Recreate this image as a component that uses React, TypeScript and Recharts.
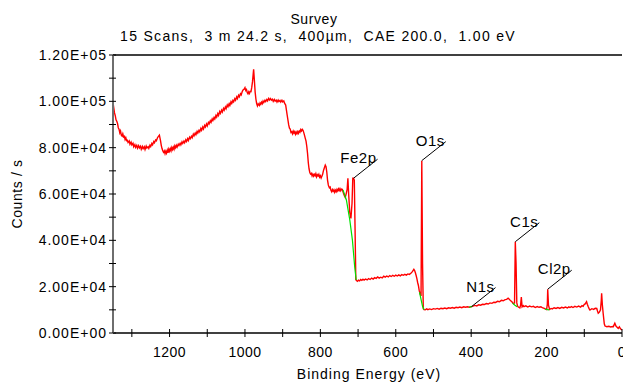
import React from 'react';
import { ComposedChart, Line, XAxis, YAxis, ReferenceLine, ReferenceDot } from 'recharts';

// survey spectrum, [binding energy (eV), counts/s]
const spectrum: [number, number][] = [
  [1350, 99500], [1348, 97200], [1346, 95000], [1344, 93800], [1342, 92000], [1340, 91400],
  [1338, 90500], [1336, 88600], [1334, 88000], [1332, 86400], [1330, 87200], [1328, 85400],
  [1326, 85000], [1324, 86000], [1322, 84600], [1320, 84900], [1318, 83500], [1316, 84300],
  [1314, 83000], [1312, 83200], [1310, 82200], [1307, 82900], [1305, 81500], [1302, 82400],
  [1300, 81200], [1297, 81900], [1295, 80400], [1292, 81300], [1290, 80100], [1287, 81000],
  [1285, 79800], [1282, 80900], [1280, 79900], [1277, 80600], [1275, 79300], [1272, 80500],
  [1270, 79600], [1267, 80400], [1265, 79200], [1262, 80700], [1260, 79900], [1257, 80400],
  [1255, 79700], [1252, 81100], [1250, 80500], [1247, 81800], [1245, 81200], [1242, 82600],
  [1240, 82100], [1237, 83300], [1235, 83000], [1232, 84300], [1230, 84800], [1227, 85400],
  [1224, 83000], [1222, 81000], [1220, 79600], [1218, 78700], [1216, 78000], [1214, 78600],
  [1212, 77400], [1210, 78500], [1208, 77600], [1206, 78900], [1204, 77800], [1202, 79400],
  [1200, 78500], [1198, 79600], [1196, 78600], [1194, 80100], [1192, 79200], [1190, 80200],
  [1188, 79300], [1186, 80800], [1184, 80000], [1182, 81000], [1180, 80200], [1177, 81500],
  [1175, 80900], [1172, 81900], [1170, 81200], [1167, 82500], [1165, 81800], [1162, 82800],
  [1160, 82100], [1157, 83400], [1155, 82700], [1152, 83900], [1150, 83100], [1147, 84500],
  [1145, 83900], [1142, 84900], [1140, 84300], [1137, 85800], [1135, 85100], [1132, 86300],
  [1130, 85600], [1127, 87000], [1125, 86300], [1122, 87500], [1120, 86900], [1117, 88300],
  [1115, 87500], [1112, 88900], [1110, 88100], [1107, 89600], [1105, 88900], [1102, 90200],
  [1100, 89400], [1097, 90900], [1095, 90300], [1092, 91600], [1090, 90900], [1087, 92400],
  [1085, 91700], [1082, 93000], [1080, 92400], [1077, 93900], [1075, 93200], [1072, 94700],
  [1070, 93900], [1067, 95600], [1065, 94800], [1062, 96200], [1060, 95400], [1057, 96900],
  [1055, 96200], [1052, 97600], [1050, 96800], [1047, 98400], [1045, 97700], [1042, 99000],
  [1040, 98200], [1037, 99800], [1035, 99100], [1032, 100400], [1030, 99800], [1027, 101100],
  [1025, 100500], [1022, 101900], [1020, 101200], [1017, 102600], [1015, 102000], [1012, 103300],
  [1010, 102800], [1007, 104300], [1005, 104900], [1002, 105300], [1000, 105900], [998, 104700],
  [996, 105100], [994, 103800], [992, 103200], [990, 104100], [988, 103400], [986, 104300],
  [984, 104200], [982, 106000], [980, 108500], [977, 113800], [975, 109000], [973, 104000],
  [971, 101000], [969, 99000], [967, 98000], [965, 98900], [962, 98200], [960, 99300],
  [958, 98700], [956, 99600], [954, 99000], [952, 100100], [950, 99500], [947, 100500],
  [945, 99900], [942, 100800], [940, 100200], [937, 101300], [935, 100600], [932, 101200],
  [930, 100500], [927, 100900], [925, 100000], [922, 100800], [920, 100100], [917, 100500],
  [915, 99700], [912, 100600], [910, 99900], [907, 100400], [905, 99700], [902, 100500],
  [900, 99800], [897, 100200], [895, 99200], [892, 98400], [888, 94000], [884, 89800],
  [882, 88400], [880, 88000], [878, 86600], [876, 86900], [874, 86000], [872, 87100],
  [870, 86300], [868, 86900], [866, 85800], [864, 86700], [862, 86000], [860, 86900],
  [858, 86200], [856, 87200], [854, 86700], [852, 87800], [850, 87200], [848, 87900],
  [846, 87500], [844, 86500], [842, 85300], [840, 84000], [838, 82800], [836, 80500],
  [834, 77500], [832, 73500], [830, 70800], [828, 69300], [826, 68600], [824, 68900],
  [822, 67800], [820, 68600], [818, 67700], [816, 68500], [814, 67900], [812, 68800],
  [810, 67400], [808, 68300], [806, 67800], [804, 68500], [802, 67300], [800, 67900],
  [798, 66900], [796, 67700], [794, 68500], [792, 70000], [790, 71000], [787, 72500],
  [785, 71800], [783, 69500], [781, 66000], [779, 64000], [778, 63500], [776, 62700],
  [774, 63000], [772, 61600], [770, 61000], [768, 61900], [766, 61200], [764, 61800],
  [762, 60700], [760, 61600], [758, 61000], [756, 62000], [754, 61300], [752, 62200],
  [750, 61500], [748, 62300], [746, 61400], [744, 62100], [742, 62000], [740, 61000],
  [738, 60000], [736, 59200], [734, 58500], [731, 60500], [729, 62000], [727, 66800],
  [725, 60000], [722, 52000], [719, 49500], [716, 56000], [714, 66800], [712, 66800],
  [710, 66000], [708, 45000], [706, 23000], [704, 22600], [702, 22300], [699, 22800],
  [696, 22500], [693, 23100], [690, 22700], [687, 23200], [684, 22800], [680, 23300],
  [676, 22900], [672, 23500], [668, 23100], [664, 23700], [660, 23300], [656, 23900],
  [652, 23600], [648, 24200], [644, 23700], [640, 24100], [636, 23800], [632, 24500],
  [628, 24100], [624, 24600], [620, 24200], [616, 24800], [612, 24400], [608, 24900],
  [604, 24500], [600, 25000], [596, 24600], [592, 25100], [588, 24700], [584, 25200],
  [580, 24900], [576, 25300], [572, 25000], [568, 25500], [564, 25300], [560, 25800],
  [556, 26500], [552, 27500], [550, 27000], [548, 26000], [546, 24800], [544, 23500],
  [542, 21800], [540, 20500], [538, 18500], [536, 17100], [533, 16000], [531, 74400],
  [529, 30000], [527, 10500], [525, 10100], [522, 10000], [518, 10400], [515, 10100],
  [510, 10400], [505, 10100], [500, 10500], [495, 10300], [490, 10600], [485, 10300],
  [480, 10700], [475, 10500], [470, 10800], [465, 10500], [460, 10900], [455, 10700],
  [450, 11000], [445, 10700], [440, 11100], [435, 10900], [430, 11200], [425, 10900],
  [420, 11300], [415, 11100], [410, 11300], [405, 11100], [399, 11400], [395, 11600],
  [390, 11900], [385, 11700], [380, 12200], [375, 12000], [370, 12400], [365, 12300],
  [360, 12700], [355, 12500], [350, 13000], [345, 12800], [340, 13300], [335, 13200],
  [330, 13700], [325, 13500], [320, 14100], [315, 13900], [310, 14400], [306, 14500],
  [302, 15000], [299, 14600], [296, 14000], [292, 13500], [288, 12600], [285, 13000],
  [283, 39400], [281, 30000], [279, 13000], [277, 11600], [275, 11200], [273, 11000],
  [271, 10800], [269, 12000], [267, 15500], [265, 11300], [262, 11800], [260, 11400],
  [255, 11700], [250, 11200], [245, 11600], [240, 11300], [235, 11500], [230, 11000],
  [225, 11400], [220, 11100], [215, 11300], [210, 10800], [206, 10600], [203, 10300],
  [200, 10100], [198, 12500], [197, 18900], [195, 12000], [192, 10200], [188, 10600],
  [185, 10400], [180, 10900], [175, 10600], [170, 11000], [165, 10600], [160, 11100],
  [155, 10800], [150, 11200], [145, 10800], [141, 11300], [138, 11000], [134, 11400],
  [130, 11000], [125, 11500], [120, 11200], [115, 11600], [110, 11200], [106, 11800],
  [103, 11500], [100, 12400], [98, 12500], [96, 13000], [94, 13500], [92, 12400],
  [90, 11500], [87, 10400], [85, 9900], [80, 10500], [75, 10200], [71, 10700],
  [67, 10600], [65, 9500], [63, 8500], [60, 9000], [57, 10000], [55, 14000],
  [54, 17100], [52, 12000], [50, 8500], [47, 4000], [45, 3000], [40, 2700],
  [35, 2900], [30, 2600], [25, 2800], [23, 2700], [21, 3500], [19, 4200],
  [16, 3000], [13, 2500], [10, 2000], [7, 2700], [4, 1800], [0, 1300],
];

// peak backgrounds
const fe2pBackground: [number, number][] = [
  [740, 61700], [731, 57400], [722, 48800], [715, 40100], [709, 28600], [705, 22900],
];
const o1sBackground: [number, number][] = [[537, 17500], [533, 14500], [529, 11500], [525, 10000]];
const n1sBackground: [number, number][] = [[406, 11100], [397, 11500]];
const c1sBackground: [number, number][] = [[290, 12900], [284, 12000], [278, 11300]];
const cl2pBackground: [number, number][] = [[204, 10300], [193, 10000]];

// annotated peaks: label and the energy the leader line starts from
const peakNames = ['Fe2p', 'O1s', 'N1s', 'C1s', 'Cl2p'];
const peakEnergies = [712, 531, 399, 283, 197];

const xTicks = [1300, 1200, 1100, 1000, 900, 800, 700, 600, 500, 400, 300, 200, 100, 0];
const yTicks = [0, 10000, 20000, 30000, 40000, 50000, 60000, 70000, 80000, 90000, 100000, 110000, 120000];

const FONT = '"Liberation Sans", Arial, sans-serif';

const toRows = (pts: [number, number][]) => pts.map(([e, c]) => ({ e, c }));

const sci = (v: number) => {
  if (v === 0) return '0.00E+00';
  const exp = Math.floor(Math.log10(v));
  const mant = (v / Math.pow(10, exp)).toFixed(2);
  return `${mant}E+${String(exp).padStart(2, '0')}`;
};

const YTick = ({ x, y, payload }: any) => (
  <g>
    <line x1={x - 4} x2={x + 3} y1={y} y2={y} stroke="#000" />
    {payload.value % 20000 === 0 && (
      <text x={x - 6} y={y} dy="0.36em" textAnchor="end" fontSize={14} fontFamily={FONT} letterSpacing={1} fill="#000">
        {sci(payload.value)}
      </text>
    )}
  </g>
);

const XTick = ({ x, y, payload }: any) => (
  <g>
    <line x1={x} x2={x} y1={y - 4} y2={y + 4} stroke="#000" />
    {payload.value % 200 === 0 && (
      <text x={x} y={y + 24} textAnchor="middle" fontSize={14} fontFamily={FONT} letterSpacing={0.5} fill="#000">
        {payload.value}
      </text>
    )}
  </g>
);

const PeakLabel = (name: string) => (props: any) => {
  const { cx, cy } = props;
  const ex = cx + 24;
  const ey = cy - 19;
  return (
    <g>
      <line x1={cx} y1={cy} x2={ex} y2={ey} stroke="#000" strokeWidth={1} />
      <text x={ex - 1} y={ey + 4} textAnchor="end" fontSize={15} fontFamily={FONT} letterSpacing={0.5} fill="#000">
        {name}
      </text>
    </g>
  );
};

const backgrounds = [fe2pBackground, o1sBackground, n1sBackground, c1sBackground, cl2pBackground];

export default function App() {
  const rows = toRows(spectrum);
  return (
    <div style={{ position: 'absolute', left: 0, top: 0, width: 623, height: 382, overflow: 'hidden', background: '#fff' }}>
      <ComposedChart width={640} height={382} margin={{ top: 55, right: 18, bottom: 0, left: 0 }}>
        <XAxis
          dataKey="e"
          type="number"
          domain={[0, 1350]}
          reversed
          allowDataOverflow
          ticks={xTicks}
          interval={0}
          height={49}
          tickSize={0}
          tickMargin={0}
          tickLine={false}
          axisLine={{ stroke: '#000', strokeWidth: 1.5 }}
          tick={<XTick />}
        />
        <YAxis
          dataKey="c"
          type="number"
          domain={[0, 120000]}
          allowDataOverflow
          ticks={yTicks}
          interval={0}
          width={113}
          tickSize={0}
          tickMargin={0}
          tickLine={false}
          axisLine={{ stroke: '#6e6e6e', strokeWidth: 2 }}
          tick={<YTick />}
        />
        <ReferenceLine y={120000} stroke="#000" strokeWidth={1.5} />
        <Line
          data={rows}
          dataKey="c"
          stroke="#ff0000"
          strokeWidth={1.4}
          dot={false}
          isAnimationActive={false}
        />
        {backgrounds.map((bg, i) => (
          <Line
            key={`bg-${i}`}
            data={toRows(bg)}
            dataKey="c"
            stroke="#00e000"
            strokeWidth={1.2}
            dot={false}
            isAnimationActive={false}
          />
        ))}
        {peakNames.map((name, i) => {
          const e = peakEnergies[i];
          const hit = spectrum.find(([pe]) => pe === e);
          return (
            <ReferenceDot key={name} x={e} y={hit ? hit[1] : 0} r={0} shape={PeakLabel(name)} />
          );
        })}
      </ComposedChart>
      <svg width={623} height={382} style={{ position: 'absolute', left: 0, top: 0, pointerEvents: 'none' }}>
        <g fontFamily={FONT} fontSize={14} fill="#000">
          <text x={314} y={24} textAnchor="middle" letterSpacing={0.6}>Survey</text>
          <text x={318} y={41} textAnchor="middle" letterSpacing={1.3} style={{ whiteSpace: 'pre' }}>
            15 Scans,  3 m 24.2 s,  400µm,  CAE 200.0,  1.00 eV
          </text>
          <text x={369} y={379} textAnchor="middle" letterSpacing={1}>Binding Energy (eV)</text>
          <text x={0} y={0} transform="translate(22,194) rotate(-90)" textAnchor="middle" letterSpacing={0.6}>
            Counts / s
          </text>
        </g>
      </svg>
    </div>
  );
}
